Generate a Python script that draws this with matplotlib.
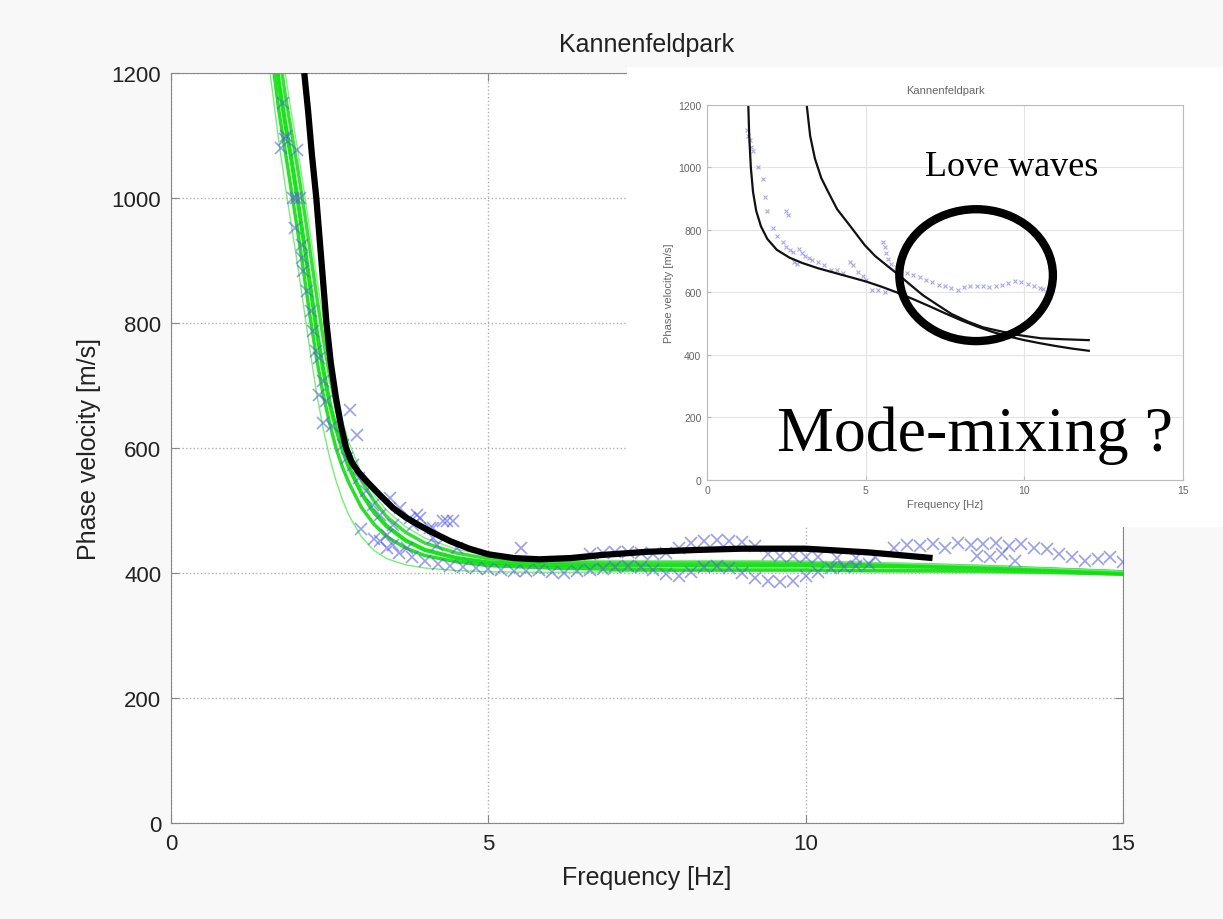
import matplotlib.pyplot as plt
from matplotlib.patches import Rectangle, Ellipse

# ---- main plot data ----
# black curve (best fit)
fit_f = [2.10, 2.16, 2.22, 2.29, 2.37, 2.45, 2.52, 2.60, 2.68, 2.76, 2.85, 2.95, 3.1, 3.3,
         3.5, 3.7, 3.9, 4.1, 4.4, 4.7, 5.0, 5.4, 5.8, 6.3, 6.8, 7.5, 8.3, 9.0, 10.0, 11.0, 12.0]
fit_v = [1200, 1140, 1070, 1000, 900, 800, 735, 680, 635, 600, 577, 562, 545, 524,
         504, 489, 477, 466, 451, 439, 430, 424, 422, 424, 429, 434, 437, 439, 439, 433, 424]

# green model curves, common frequency grid
green_f = [1.5, 1.6, 1.7, 1.8, 1.9, 2.0, 2.1, 2.2, 2.3, 2.4, 2.5, 2.6, 2.7, 2.8, 3.0, 3.2,
           3.4, 3.7, 4.0, 4.5, 5.0, 6.0, 7.0, 8.0, 9.0, 10.0, 11.0, 12.0, 13.0, 14.0, 15.0]
green_a = [1330, 1220, 1140, 1075, 1010, 945, 875, 805, 740, 685, 640, 600, 570, 545, 505, 478,
           458, 440, 428, 418, 412, 408, 406, 405, 405, 405, 404, 404, 403, 401, 398]
green_b = [1400, 1270, 1185, 1120, 1060, 995, 925, 855, 785, 725, 672, 632, 598, 570, 528, 497,
           475, 452, 437, 424, 417, 413, 412, 412, 412, 412, 411, 410, 408, 405, 401]
green_c = [1480, 1340, 1235, 1165, 1105, 1045, 980, 910, 840, 775, 715, 665, 625, 595, 548, 515,
           490, 465, 448, 432, 423, 418, 417, 417, 417, 417, 415, 413, 410, 406, 402]
green_d = [1250, 1170, 1090, 1020, 955, 890, 820, 750, 685, 630, 585, 548, 518, 493, 458, 436,
           423, 413, 408, 404, 402, 401, 402, 403, 403, 403, 402, 401, 400, 399, 397]
green_e = [1550, 1400, 1280, 1200, 1135, 1075, 1010, 940, 870, 805, 745, 690, 645, 610, 560, 525,
           500, 474, 456, 438, 428, 421, 420, 420, 420, 419, 417, 414, 411, 407, 403]

# blue picks, steep part
steep_f = [1.76, 1.82, 1.74, 1.98, 1.80, 1.92, 2.03, 1.97, 1.95, 2.07, 2.06, 2.08, 2.15, 2.21,
           2.23, 2.29, 2.34, 2.39, 2.34, 2.45, 2.39, 2.53, 2.82, 2.93, 2.71, 2.77, 2.87, 2.97,
           3.08, 3.18, 3.29, 3.45, 3.50, 3.61, 3.77, 3.88, 3.82, 3.92, 4.08, 4.29, 4.35, 4.45,
           4.13, 3.40, 3.29, 3.50, 3.72, 4.13, 4.19, 4.51, 5.51,
           3.0, 3.2, 3.4, 3.6, 3.8, 4.0, 4.2, 4.4, 4.6, 4.8, 5.0]
steep_v = [1152, 1099, 1080, 1077, 1095, 1000, 1000, 1000, 952, 925, 904, 883, 851, 819,
           787, 755, 744, 707, 685, 675, 640, 635, 661, 621, 605, 584, 573, 552,
           531, 509, 493, 520, 477, 504, 488, 493, 477, 488, 472, 483, 483, 483,
           472, 461, 451, 445, 440, 456, 445, 440, 440,
           470, 455, 440, 432, 425, 420, 415, 412, 410, 408, 406]

# blue picks, lower plateau branch
low_f = [5.2, 5.4, 5.6, 5.8, 6.0, 6.2, 6.4, 6.6, 6.8, 7.0, 7.2, 7.4, 7.6, 7.8, 8.0, 8.2,
         8.4, 8.6, 8.8, 9.0, 9.2, 9.4, 9.6, 9.8, 10.0, 10.2, 10.4, 10.6, 10.8, 11.0]
low_v = [405, 404, 403, 405, 402, 400, 403, 405, 407, 410, 412, 410, 405, 398, 396, 402,
         410, 412, 408, 400, 392, 388, 385, 388, 395, 402, 408, 410, 412, 414]

# blue picks, upper plateau branch
up_f = [6.6, 6.8, 7.0, 7.2, 7.4, 7.6, 7.8, 8.0, 8.2, 8.4, 8.6, 8.8, 9.0, 9.2, 9.4, 9.6,
        9.8, 10.0, 10.2, 10.5, 10.8, 11.1, 11.4, 11.6, 11.8, 12.0, 12.2, 12.4, 12.6, 12.8,
        13.0, 13.2, 13.4, 13.6, 13.8, 14.0, 14.2, 14.4, 14.6, 14.8, 15.0,
        12.7, 12.9, 13.1, 13.3]
up_v = [430, 432, 433, 434, 432, 430, 432, 440, 448, 452, 453, 452, 450, 444, 430, 428,
        428, 426, 425, 424, 424, 425, 440, 445, 443, 447, 440, 448, 445, 447,
        448, 443, 446, 440, 438, 430, 425, 420, 422, 425, 418,
        428, 425, 430, 420]

# ---- inset data ----
love1_f = [1.30, 1.33, 1.38, 1.45, 1.55, 1.7, 1.9, 2.2, 2.6, 3.0, 3.5, 4.0, 4.5, 5.0, 5.5,
           6.0, 6.5, 7.0, 7.5, 8.0, 8.5, 9.0, 9.5, 10.0, 10.5, 11.0, 11.5, 12.03]
love1_v = [1200, 1100, 1000, 920, 860, 810, 770, 735, 710, 693, 676, 662, 648, 634, 617,
           598, 577, 555, 532, 510, 490, 472, 458, 446, 436, 427, 419, 412]
love2_f = [3.14, 3.25, 3.4, 3.6, 3.82, 4.1, 4.49, 4.97, 5.3, 5.69, 6.0, 6.42, 6.8, 7.26,
           7.7, 8.23, 8.7, 9.31, 9.9, 10.52, 11.2, 12.03]
love2_v = [1200, 1100, 1027, 965, 920, 865, 814, 750, 715, 683, 658, 622, 590, 559,
           530, 505, 487, 473, 461, 452, 449, 446]
inset_pick_f = [1.26, 1.30, 1.34, 1.40, 1.45, 1.60, 1.76, 1.82, 1.90, 2.08, 2.2, 2.4, 2.5, 2.55,
                2.5, 2.6, 2.7, 2.75, 2.85, 2.9, 3.0, 3.1, 3.2, 3.3, 3.5, 3.7, 3.9, 4.1, 4.3,
                4.5, 4.6, 4.75, 4.9, 5.0, 5.2, 5.4, 5.6, 5.55, 5.6, 5.65, 5.7, 5.8, 5.95, 6.1,
                6.3, 6.5, 6.7, 6.9, 7.1, 7.3, 7.5, 7.7, 7.9, 8.1, 8.3, 8.5, 8.7, 8.9, 9.1,
                9.3, 9.5, 9.7, 9.9, 10.1, 10.3, 10.5, 10.6]
inset_pick_v = [1120, 1100, 1085, 1065, 1050, 1000, 963, 905, 860, 805, 780, 760, 860, 845,
                745, 735, 727, 695, 690, 737, 725, 715, 708, 704, 695, 685, 672, 672, 660,
                695, 685, 665, 650, 640, 608, 605, 600, 760, 745, 725, 705, 690, 680, 672,
                662, 655, 648, 640, 632, 624, 618, 612, 608, 615, 620, 618, 620, 617, 620,
                624, 630, 634, 632, 626, 618, 612, 610]

plt.rcParams['font.family'] = ['Liberation Sans', 'DejaVu Sans']

fig = plt.figure(figsize=(12.23, 9.2), dpi=100)
fig.patch.set_facecolor('#f8f8f8')

# ---- main axes ----
ax = fig.add_axes([0.1398, 0.1043, 0.7784, 0.8152])
ax.set_facecolor('white')

for gv, col, lw in [(green_d, '#66ee66', 1.0), (green_a, '#11dd11', 2.5),
                    (green_b, '#00e000', 3.0), (green_c, '#22dd22', 2.5),
                    (green_e, '#77ee77', 1.0)]:
    ax.plot(green_f, gv, color=col, lw=lw, alpha=0.9, zorder=2)

ax.plot(steep_f, steep_v, 'x', color='#5560dd', ms=9, mew=1.2, alpha=0.6, zorder=3)
ax.plot(low_f, low_v, 'x', color='#5560dd', ms=9, mew=1.2, alpha=0.6, zorder=3)
ax.plot(up_f, up_v, 'x', color='#5560dd', ms=9, mew=1.2, alpha=0.6, zorder=3)
ax.plot(fit_f, fit_v, color='black', lw=4.5, zorder=4, solid_capstyle='butt',
        solid_joinstyle='round')

ax.set_xlim(0, 15)
ax.set_ylim(0, 1200)
ax.set_xticks([0, 5, 10, 15])
ax.set_yticks([0, 200, 400, 600, 800, 1000, 1200])
ax.grid(True, color='#b0b0b0', linestyle=':', linewidth=1.0)
ax.tick_params(direction='in', length=6, labelsize=16, colors='#888888',
               labelcolor='#222222', pad=7, top=True, right=True)
for s in ax.spines.values():
    s.set_color('#888888')
ax.set_xlabel('Frequency [Hz]', fontsize=18, color='#222222', labelpad=8)
ax.set_ylabel('Phase velocity [m/s]', fontsize=18, color='#222222', labelpad=8)
ax.set_title('Kannenfeldpark', fontsize=18, color='#222222', pad=16)

# ---- white panel for the inset ----
fig.add_artist(Rectangle((0.5127, 0.4261), 0.4873, 0.50, transform=fig.transFigure,
                         facecolor='white', edgecolor='none', zorder=1))

ins = fig.add_axes([0.5781, 0.4777, 0.3892, 0.4076], zorder=2)
ins.set_facecolor('white')
ins.plot(inset_pick_f, inset_pick_v, 'x', color='#7070e0', ms=3, mew=0.8, alpha=0.6)
ins.plot(love1_f, love1_v, color='#111111', lw=1.6, solid_joinstyle='round')
ins.plot(love2_f, love2_v, color='#111111', lw=1.6, solid_joinstyle='round')
ins.set_xlim(0, 15)
ins.set_ylim(0, 1200)
ins.set_xticks([0, 5, 10, 15])
ins.set_yticks([0, 200, 400, 600, 800, 1000, 1200])
ins.grid(True, color='#e4e4e4', linestyle='-', linewidth=0.8)
ins.tick_params(direction='in', length=3, labelsize=7.5, colors='#bbbbbb',
                labelcolor='#666666', pad=4)
for s in ins.spines.values():
    s.set_color('#bbbbbb')
ins.set_xlabel('Frequency [Hz]', fontsize=8, color='#666666', labelpad=3)
ins.set_ylabel('Phase velocity [m/s]', fontsize=8, color='#666666', labelpad=3)
ins.set_title('Kannenfeldpark', fontsize=8, color='#666666', pad=8)

ins.add_patch(Ellipse((8.48, 654), 4.84, 422, fill=False, edgecolor='black', lw=6,
                      clip_on=False, zorder=5))

fig.text(1012 / 1223, 1 - 168 / 920, 'Love waves', family='Liberation Serif',
         fontsize=26, ha='center', va='center', zorder=6)
fig.text(975 / 1223, 1 - 436 / 920, 'Mode-mixing ?', family='Liberation Serif',
         fontsize=46, ha='center', va='center', zorder=6)

fig.savefig('out.png', dpi=100, facecolor=fig.get_facecolor())
